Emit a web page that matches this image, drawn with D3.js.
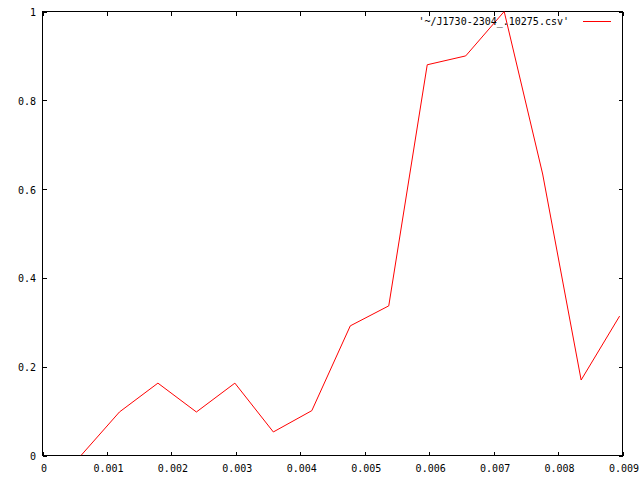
<!DOCTYPE html>
<html>
<head>
<meta charset="utf-8">
<script src="https://cdn.jsdelivr.net/npm/d3@7"></script>
<style>
  html, body { margin: 0; padding: 0; background: #fff; }
  svg { display: block; }
  text { font-family: "DejaVu Sans Mono", "Liberation Mono", monospace; font-size: 10px; fill: #000; }
</style>
</head>
<body>
<svg id="chart" width="640" height="480"></svg>
<script>
// Data
const xValues = [0.000597, 0.001194, 0.001791, 0.002388, 0.002985, 0.003582, 0.004179, 0.004776,
                 0.005373, 0.005970, 0.006567, 0.007164, 0.007761, 0.008358, 0.008955];
const yValues = [0.000, 0.098, 0.163, 0.098, 0.163, 0.053, 0.101, 0.292,
                 0.337, 0.880, 0.900, 1.000, 0.634, 0.170, 0.314];
const xTicks = [0, 0.001, 0.002, 0.003, 0.004, 0.005, 0.006, 0.007, 0.008, 0.009];
const xTickLabels = ["0", "0.001", "0.002", "0.003", "0.004", "0.005", "0.006", "0.007", "0.008", "0.009"];
const yTicks = [0, 0.2, 0.4, 0.6, 0.8, 1];
const yTickLabels = ["0", "0.2", "0.4", "0.6", "0.8", "1"];
const seriesName = "'~/J1730-2304_.10275.csv'";

const svg = d3.select("#chart");
const pLeft = 42.5, pRight = 622.5, pTop = 11.5, pBottom = 455.5;
const x = d3.scaleLinear().domain([0, 0.009]).range([pLeft, pRight]);
const y = d3.scaleLinear().domain([0, 1]).range([pBottom, pTop]);
const tickLen = 4;
const fontFam = "DejaVu Sans Mono, Liberation Mono, monospace";

// clip for data line
svg.append("defs").append("clipPath").attr("id", "clip")
  .append("rect").attr("x", pLeft).attr("y", pTop).attr("width", pRight - pLeft).attr("height", pBottom - pTop);

const axes = svg.append("g").attr("shape-rendering", "crispEdges");

// bottom axis (ticks inward) and mirrored top ticks
const xAxisB = d3.axisBottom(x).tickValues(xTicks).tickSize(-tickLen).tickPadding(0)
  .tickFormat((d, i) => xTickLabels[i]);
const gxb = axes.append("g").attr("transform", `translate(0,${pBottom})`).call(xAxisB);
gxb.select(".domain").remove();
gxb.selectAll(".tick line").attr("stroke", "#000");
gxb.selectAll(".tick text").attr("dy", null).attr("y", 16.5).attr("x", 1)
  .attr("font-family", fontFam).attr("font-size", 10).attr("fill", "#000");

const xAxisT = d3.axisTop(x).tickValues(xTicks).tickSize(-tickLen).tickFormat("");
const gxt = axes.append("g").attr("transform", `translate(0,${pTop})`).call(xAxisT);
gxt.select(".domain").remove();
gxt.selectAll(".tick line").attr("stroke", "#000");

// left axis and mirrored right ticks
const yAxisL = d3.axisLeft(y).tickValues(yTicks).tickSize(-tickLen).tickPadding(0)
  .tickFormat((d, i) => yTickLabels[i]);
const gyl = axes.append("g").attr("transform", `translate(${pLeft},0)`).call(yAxisL);
gyl.select(".domain").remove();
gyl.selectAll(".tick line").attr("stroke", "#000");
gyl.selectAll(".tick text").attr("dy", null).attr("x", -6.5).attr("y", 4)
  .attr("font-family", fontFam).attr("font-size", 10).attr("fill", "#000");

const yAxisR = d3.axisRight(y).tickValues(yTicks).tickSize(-tickLen).tickFormat("");
const gyr = axes.append("g").attr("transform", `translate(${pRight},0)`).call(yAxisR);
gyr.select(".domain").remove();
gyr.selectAll(".tick line").attr("stroke", "#000");

// border
axes.append("rect").attr("x", pLeft).attr("y", pTop).attr("width", pRight - pLeft).attr("height", pBottom - pTop)
  .attr("fill", "none").attr("stroke", "#000").attr("stroke-width", 1);

// data line
const data = xValues.map((v, i) => ({ x: v, y: yValues[i] }));
svg.append("path").datum(data)
  .attr("clip-path", "url(#clip)")
  .attr("fill", "none").attr("stroke", "#ff0000").attr("stroke-width", 1)
  .attr("d", d3.line().x(d => x(d.x)).y(d => y(d.y)));

// legend
const legend = svg.append("g");
legend.append("text").attr("x", 569).attr("y", 25).attr("text-anchor", "end")
  .attr("font-family", fontFam).text(seriesName);
legend.append("line").attr("x1", 583).attr("x2", 611).attr("y1", 21.5).attr("y2", 21.5)
  .attr("stroke", "#ff0000").attr("stroke-width", 1).attr("shape-rendering", "crispEdges");
</script>
</body>
</html>
